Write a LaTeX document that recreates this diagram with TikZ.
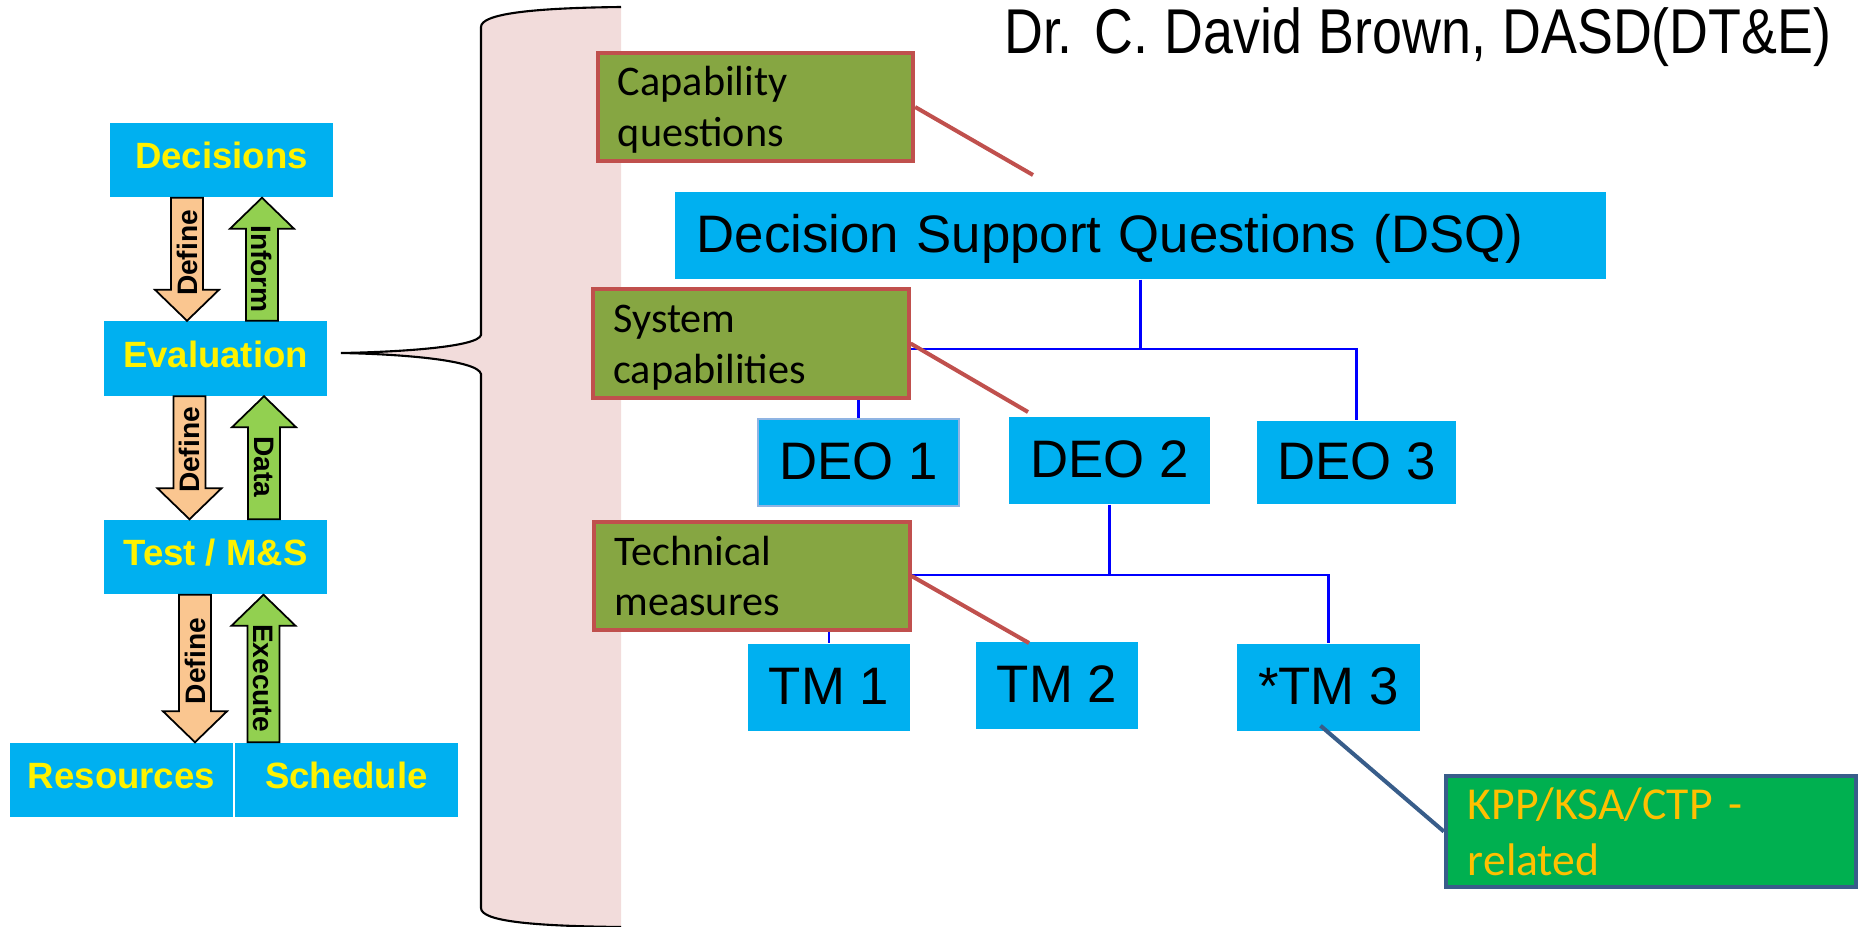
\documentclass[tikz,border=0pt]{standalone}
\usepackage{fontspec}
\usetikzlibrary{calc}
\setmainfont{Liberation Sans}
\newfontfamily\calfont{Carlito}
\newfontfamily\narrowfont[FakeStretch=0.85,WordSpace=1.1]{Liberation Sans}

\definecolor{boxblue}{RGB}{0,176,240}
\definecolor{defcol}{RGB}{250,198,144}
\definecolor{infcol}{RGB}{146,208,80}
\definecolor{capolive}{RGB}{134,166,66}
\definecolor{leadred}{RGB}{192,80,77}
\definecolor{bracepink}{RGB}{242,220,219}
\definecolor{kppgreen}{RGB}{0,176,80}
\definecolor{kppblue}{RGB}{56,93,138}
\definecolor{kppgold}{RGB}{255,192,0}
\definecolor{deoedge}{RGB}{143,180,227}

\begin{document}
\begin{tikzpicture}[
	  x=0.01cm, y=-0.01cm,
	  lbox/.style={fill=boxblue, text=yellow, font=\fontsize{10.4pt}{12pt}\selectfont\bfseries,
	    minimum width=2.23cm, minimum height=0.74cm, inner sep=0pt, text depth=.25em},
	  tbox/.style={fill=boxblue, font=\fontsize{15pt}{18pt}\selectfont, minimum height=0.87cm,
	    inner sep=0pt, text height=.95em, text depth=0pt},
	  gbox/.style={fill=capolive, draw=leadred, line width=1.15pt, text width=2.75cm, align=left,
	    inner xsep=0.2cm, minimum height=1.08cm, font=\calfont\fontsize{12pt}{14.5pt}\selectfont,
	    text height=0.3cm, text depth=0.52cm},
	  blockarrow/.style={draw=black, line width=0.5pt},
	  alabel/.style={font=\fontsize{8pt}{9pt}\selectfont\bfseries, inner sep=0pt},
	  treeline/.style={blue, line width=0.6pt},
	  leader/.style={leadred, line width=1.15pt},
	]
	\useasboundingbox (0,0) rectangle (1860,927);

	\coordinate (tip) at (341,353);
	\fill [bracepink] (621,7) .. controls (530,8) and (481,14) .. (481,27) -- (481,335)
	  .. controls (478,347) and (400,352) .. (tip) .. controls (400,354) and (478,360) .. (481,374)
	  -- (481,908) .. controls (481,921) and (530,926) .. (621,927) -- cycle;
	\draw [line width=0.6pt] (621,7) .. controls (530,8) and (481,14) .. (481,27) -- (481,335)
	  .. controls (478,347) and (400,352) .. (tip) .. controls (400,354) and (478,360) .. (481,374)
	  -- (481,908) .. controls (481,921) and (530,926) .. (621,927);

	\node [lbox] (dec) at (221.5,160) {Decisions};
	\node [lbox] (eval) at (215.5,358.5) {Evaluation};
	\node [lbox] (test) at (215.5,557) {Test / M\&S};
	\node [lbox] (res) at (121.5,780) {Resources};
	\node [lbox] (sch) at (346.5,780) {Schedule};

	\foreach \src/\sa/\dst/\da/\ax/\s/\col/\lab/\ly/\rot [count=\i] in {
	    dec/south/eval/north/187/1/defcol/Define/253/90,
	    eval/north/dec/south/262/-1/infcol/Inform/269/-90,
	    eval/south/test/north/189.5/1/defcol/Define/450/90,
	    test/north/eval/south/264/-1/infcol/Data/467/-90,
	    test/south/res/north/195/1/defcol/Define/661/90,
	    sch/north/test/south/263.5/-1/infcol/Execute/678/-90}
	{
	  \path (\ax,0 |- \src.\sa) coordinate (t) (\ax,0 |- \dst.\da) coordinate (h);
	  \draw [blockarrow, fill=\col] ($(t)+(-16,0)$) -- ($(t)+(16,0)$) -- ($(h)+(16,-31*\s)$)
	    -- ($(h)+(32,-31*\s)$) -- (h) -- ($(h)+(-32,-31*\s)$) -- ($(h)+(-16,-31*\s)$) -- cycle;
	  \node [alabel, rotate=\rot] (alab\i) at (\ax,\ly) {\lab};
	}

	\node [anchor=base east, inner sep=0pt, font=\narrowfont\fontsize{18pt}{21pt}\selectfont]
	  (title) at (1832,53) {Dr. C. David Brown, DASD(DT\&E)};

	\node [tbox, text width=8.87cm, align=left, inner xsep=0.22cm] (dsq) at (1140.5,235.5)
	  {Decision Support Questions (DSQ)};
	\node [tbox, minimum width=2.01cm, draw=deoedge, line width=0.8pt] (deo1) at (858.5,462.5) {DEO 1};
	\node [tbox, minimum width=2.01cm] (deo2) at (1109.5,460.5) {DEO 2};
	\node [tbox, minimum width=1.99cm, minimum height=0.83cm] (deo3) at (1356.5,462.5) {DEO 3};
	\node [tbox, minimum width=1.62cm] (tm1) at (829,687.5) {TM 1};
	\node [tbox, minimum width=1.62cm] (tm2) at (1057,685.5) {TM 2};
	\node [tbox, minimum width=1.83cm] (tm3) at (1328.5,687.5) {*TM 3};

	\draw [treeline] (dsq.south) -- ++(0,69) coordinate (j1);
	\draw [treeline] (j1) -| (deo1.north);
	\draw [treeline] (j1) -| (deo3.north);
	\draw [treeline] (deo2.south) -- ++(0,70) coordinate (j2);
	\draw [treeline] (j2) -| (tm1.north);
	\draw [treeline] (j2) -| (tm3.north);

	\node [gbox] (cap) at (755.5,107) {Capability\\questions};
	\node [gbox] (sys) at (751,343.5) {System\\capabilities};
	\node [gbox] (tech) at (752,576) {Technical\\measures};

	\coordinate (capend) at (1033,175);
	\coordinate (sysend) at (1028,412);
	\coordinate (techend) at (1029,643);
	\draw [leader] (cap.east) -- (capend);
	\draw [leader] (sys.east) -- (sysend);
	\draw [leader] (tech.east) -- (techend);

	\node [draw=kppblue, fill=kppgreen, line width=1.15pt, text=kppgold, text width=3.66cm, align=left,
	  inner xsep=0.22cm, minimum height=1.07cm, font=\calfont\fontsize{13pt}{16pt}\selectfont,
	  text height=0.31cm, text depth=0.56cm]
	  (kpp) at (1651,831.5) {KPP/KSA/CTP -\\related};
	\draw [kppblue, line width=1.15pt] ([xshift=-0.08cm, yshift=0.06cm]tm3.south) -- (kpp.west);
\end{tikzpicture}
\end{document}
